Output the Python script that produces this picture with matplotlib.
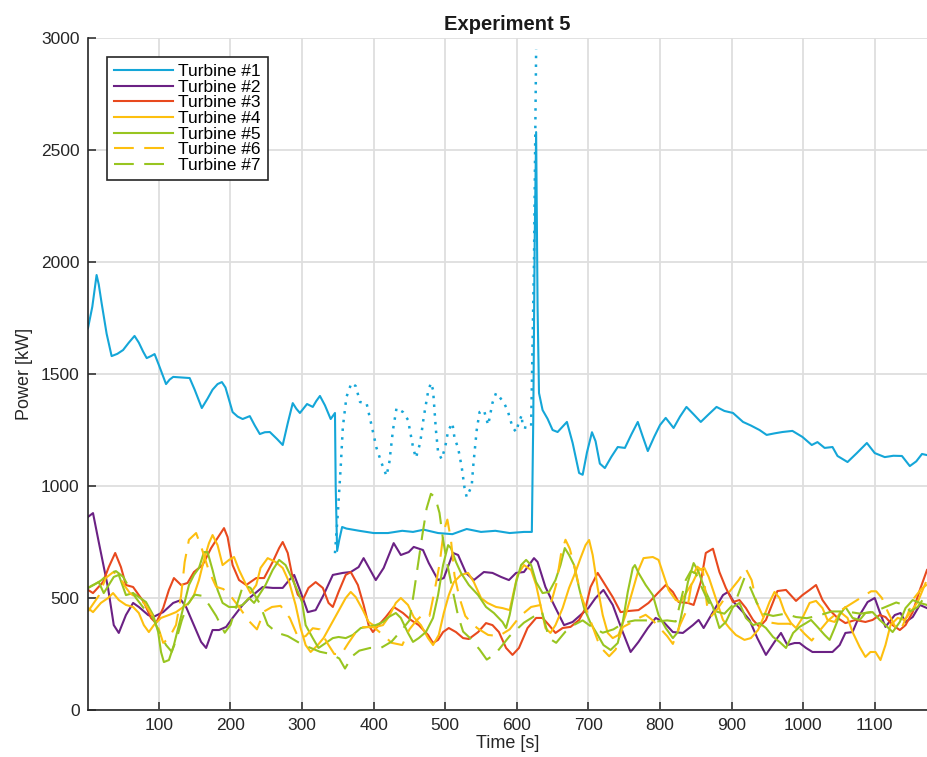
import matplotlib
matplotlib.use("Agg")
import matplotlib.pyplot as plt

# ---- data (time [s], power [kW]) ----
t1 = [1, 7, 13, 16, 20, 27, 34, 42, 50, 58, 66, 72, 78, 83, 89, 94, 100, 110, 115, 120,
      130, 143, 150, 160, 168, 175, 182, 188, 193, 203, 210, 217, 227, 234, 241, 248, 255,
      265, 273, 280, 287, 292, 297, 307, 315, 320, 325, 332, 340, 346, 347, 349, 352, 356,
      362, 380, 400, 420, 440, 455, 470, 490, 510, 530, 550, 570, 590, 610, 621, 623, 625,
      627, 629, 631, 636, 643, 650, 657, 664, 670, 678, 687, 692, 698, 705, 710, 716, 723,
      732, 741, 751, 760, 769, 776, 783, 792, 800, 808, 819, 828, 837, 847, 857, 868, 879,
      890, 902, 916, 927, 939, 949, 960, 971, 985, 999, 1012, 1020, 1030, 1041, 1048, 1062,
      1075, 1089, 1100, 1114, 1126, 1138, 1149, 1158, 1166, 1173]
p1 = [1705, 1800, 1942, 1900, 1817, 1680, 1580, 1590, 1607, 1640, 1670, 1640, 1600, 1571,
      1580, 1589, 1540, 1455, 1475, 1487, 1485, 1482, 1430, 1348, 1390, 1430, 1455, 1464,
      1440, 1330, 1310, 1299, 1312, 1270, 1232, 1240, 1241, 1210, 1183, 1280, 1370, 1345,
      1326, 1366, 1353, 1380, 1402, 1360, 1299, 1326, 1000, 710, 760, 817, 810, 800, 790,
      790, 800, 795, 805, 790, 785, 808, 795, 800, 790, 795, 795, 1300, 2100, 2580, 1800,
      1415, 1339, 1300, 1250, 1241, 1265, 1286, 1192, 1058, 1050, 1150, 1240, 1200, 1100,
      1080, 1130, 1174, 1170, 1230, 1286, 1220, 1156, 1220, 1272, 1304, 1259, 1310, 1353,
      1320, 1286, 1320, 1353, 1335, 1326, 1286, 1270, 1250, 1228, 1235, 1241, 1246, 1219,
      1183, 1196, 1170, 1174, 1134, 1107, 1147, 1192, 1147, 1129, 1135, 1134, 1089, 1110,
      1143, 1138]

# dotted blue trace during the curtailment window
t1_dot = [346, 350, 354, 357, 362, 369, 375, 381, 390, 397, 404, 411, 418, 422, 427, 432,
          441, 448, 455, 459, 465, 470, 476, 480, 483, 487, 490, 495, 500, 504, 510, 513,
          518, 523, 527, 530, 537, 539, 544, 548, 554, 560, 566, 571, 576, 582, 587, 594,
          599, 603, 607, 608, 615, 620, 624, 627]
p1_dot = [700, 879, 1085, 1263, 1397, 1460, 1446, 1375, 1371, 1272, 1170, 1103, 1045, 1107,
          1250, 1348, 1330, 1295, 1174, 1125, 1192, 1308, 1420, 1460, 1429, 1250, 1152, 1120,
          1174, 1246, 1281, 1214, 1170, 1085, 991, 951, 1000, 1085, 1250, 1330, 1339, 1272,
          1371, 1415, 1397, 1371, 1339, 1263, 1241, 1286, 1317, 1263, 1259, 1263, 2000, 2950]

t2 = [1, 8, 16, 29, 37, 44, 54, 64, 72, 85, 92, 106, 120, 131, 138, 147, 159, 166, 175,
      184, 194, 203, 217, 228, 245, 259, 273, 282, 289, 298, 308, 319, 330, 343, 357, 368,
      379, 386, 393, 403, 414, 428, 438, 449, 456, 469, 477, 490, 498, 511, 518, 529, 540,
      554, 566, 578, 589, 599, 610, 624, 629, 640, 652, 666, 678, 689, 700, 710, 721, 734,
      748, 759, 770, 783, 794, 805, 818, 832, 846, 854, 861, 874, 888, 895, 904, 916, 925,
      936, 948, 960, 969, 978, 988, 995, 1004, 1013, 1027, 1041, 1051, 1059, 1069, 1079,
      1090, 1100, 1107, 1115, 1128, 1136, 1143, 1153, 1163, 1173]
p2 = [862, 879, 750, 545, 379, 344, 424, 478, 460, 424, 415, 437, 478, 491, 460, 393, 304,
      277, 357, 357, 371, 411, 469, 504, 549, 545, 545, 580, 603, 527, 437, 446, 513, 603,
      612, 616, 638, 678, 638, 580, 634, 745, 692, 705, 728, 714, 656, 580, 589, 701, 692,
      612, 580, 616, 612, 594, 580, 612, 616, 678, 661, 549, 469, 379, 393, 424, 455, 500,
      536, 469, 348, 259, 304, 366, 411, 393, 348, 344, 379, 402, 366, 437, 513, 527, 478,
      437, 402, 321, 246, 304, 344, 290, 299, 299, 277, 259, 259, 259, 290, 344, 348, 424,
      482, 500, 437, 371, 424, 433, 393, 415, 469, 455]

t3 = [1, 8, 22, 30, 39, 47, 54, 64, 72, 79, 89, 96, 106, 114, 121, 131, 140, 149, 161, 173,
      182, 191, 196, 203, 212, 222, 236, 247, 259, 268, 273, 280, 287, 294, 301, 309, 319,
      329, 337, 343, 351, 361, 368, 378, 386, 393, 399, 407, 417, 428, 441, 452, 463, 476,
      483, 490, 497, 505, 515, 525, 533, 546, 557, 566, 575, 585, 594, 603, 615, 627, 636,
      645, 654, 664, 675, 687, 696, 703, 713, 721, 734, 745, 756, 770, 784, 797, 808, 818,
      826, 839, 847, 857, 864, 874, 883, 892, 902, 911, 920, 930, 939, 948, 958, 964, 976,
      990, 999, 1009, 1018, 1027, 1037, 1048, 1059, 1073, 1087, 1097, 1107, 1115, 1125,
      1135, 1143, 1153, 1163, 1173]
p3 = [536, 522, 571, 638, 701, 638, 558, 549, 513, 482, 411, 388, 455, 536, 589, 558, 567,
      616, 647, 723, 768, 812, 772, 647, 580, 558, 589, 589, 661, 723, 750, 701, 589, 515,
      491, 545, 571, 545, 478, 460, 527, 603, 616, 558, 469, 379, 348, 379, 415, 460, 433,
      402, 379, 335, 299, 313, 348, 366, 348, 321, 317, 348, 388, 379, 348, 277, 246, 277,
      366, 411, 411, 379, 344, 366, 371, 402, 455, 549, 612, 571, 504, 437, 442, 446, 478,
      522, 558, 527, 482, 478, 469, 571, 701, 720, 616, 545, 482, 491, 455, 402, 371, 402,
      482, 531, 536, 487, 513, 536, 558, 491, 446, 411, 388, 402, 393, 402, 424, 415, 379,
      357, 379, 437, 536, 625]

t4 = [1, 8, 19, 29, 36, 44, 54, 64, 72, 79, 86, 93, 103, 114, 124, 134, 142, 149, 156, 163,
      170, 175, 182, 189, 198, 205, 212, 222, 228, 236, 242, 252, 263, 273, 282, 291, 298,
      305, 312, 322, 330, 340, 350, 361, 368, 375, 385, 393, 403, 413, 421, 431, 438, 448,
      456, 466, 476, 483, 491, 498, 505, 512, 522, 532, 540, 550, 559, 571, 580, 590, 601,
      610, 620, 627, 634, 640, 647, 654, 664, 673, 682, 689, 696, 701, 706, 713, 720, 727,
      734, 742, 752, 762, 770, 777, 790, 798, 805, 812, 822, 829, 839, 846, 854, 862, 868,
      875, 881, 888, 897, 906, 918, 927, 937, 946, 953, 960, 967, 974, 983, 990, 999, 1009,
      1018, 1027, 1034, 1044, 1052, 1062, 1069, 1079, 1087, 1094, 1101, 1108, 1115, 1122,
      1132, 1142, 1150, 1160, 1171]
p4 = [455, 437, 478, 500, 522, 491, 469, 460, 433, 379, 348, 379, 411, 424, 437, 460, 478,
      513, 580, 670, 745, 781, 736, 647, 670, 683, 625, 558, 522, 558, 634, 678, 661, 634,
      571, 469, 366, 290, 259, 290, 321, 379, 437, 500, 527, 504, 446, 393, 371, 379, 415,
      478, 500, 469, 415, 379, 321, 290, 335, 433, 513, 571, 603, 612, 571, 500, 478, 460,
      455, 446, 603, 647, 625, 558, 455, 366, 344, 379, 455, 545, 616, 678, 736, 759, 692,
      545, 424, 344, 321, 335, 424, 536, 625, 678, 683, 670, 603, 536, 491, 482, 536, 571,
      625, 634, 594, 527, 469, 402, 366, 335, 313, 321, 357, 424, 482, 527, 500, 437, 388,
      366, 411, 478, 487, 455, 402, 393, 437, 411, 348, 281, 237, 259, 259, 223, 290, 379,
      411, 402, 437, 482, 567]

t5 = [1, 8, 16, 23, 30, 37, 44, 54, 64, 72, 82, 92, 99, 103, 107, 114, 121, 128, 135, 142,
      149, 156, 163, 168, 175, 182, 189, 198, 208, 217, 226, 233, 240, 249, 259, 268, 277,
      287, 294, 300, 305, 315, 323, 333, 343, 351, 361, 371, 382, 392, 403, 413, 421, 431,
      438, 448, 455, 463, 473, 483, 490, 497, 504, 508, 515, 522, 533, 546, 557, 568, 580,
      585, 590, 599, 606, 613, 620, 627, 636, 645, 654, 661, 667, 673, 680, 687, 694, 703,
      713, 721, 731, 741, 748, 755, 762, 765, 770, 780, 790, 798, 808, 818, 825, 832, 839,
      847, 854, 864, 874, 883, 892, 902, 911, 920, 930, 939, 948, 958, 967, 976, 986, 995,
      1004, 1011, 1020, 1030, 1037, 1044, 1051, 1059, 1069, 1079, 1087, 1097, 1107, 1115,
      1125, 1135, 1143, 1153, 1163, 1173]
p5 = [545, 558, 571, 522, 558, 594, 603, 513, 522, 504, 482, 424, 348, 259, 214, 223, 290,
      379, 469, 558, 603, 634, 705, 705, 625, 536, 478, 460, 460, 469, 500, 478, 513, 558,
      625, 670, 647, 580, 530, 482, 379, 321, 277, 299, 321, 326, 321, 335, 366, 371, 379,
      393, 415, 433, 411, 344, 304, 321, 348, 411, 513, 647, 736, 723, 661, 612, 558, 513,
      460, 433, 393, 366, 424, 571, 647, 670, 647, 571, 522, 527, 580, 647, 723, 692, 647,
      545, 455, 388, 335, 290, 268, 299, 393, 527, 634, 647, 612, 558, 513, 424, 366, 321,
      348, 455, 571, 656, 616, 527, 460, 366, 393, 460, 478, 411, 379, 388, 366, 326, 304,
      277, 344, 371, 388, 402, 371, 335, 313, 366, 424, 460, 411, 402, 433, 437, 402, 379,
      348, 393, 455, 491, 478, 469]

t6 = [1, 16, 26, 36, 44, 52, 60, 70, 80, 90, 100, 106, 114, 124, 131, 136, 142, 152, 160,
      170, 180, 190, 200, 212, 225, 237, 247, 258, 270, 283, 295, 305, 315, 325, 335, 345,
      355, 365, 380, 400, 415, 425, 440, 450, 460, 470, 478, 485, 492, 498, 503, 508, 513,
      520, 528, 536, 545, 560, 575, 590, 605, 620, 635, 648, 655, 662, 668, 674, 682, 690,
      698, 705, 713, 720, 729, 738, 748, 760, 770, 780, 790, 800, 810, 818, 828, 838, 846,
      852, 860, 866, 872, 880, 895, 910, 920, 928, 935, 945, 955, 965, 980, 992, 1002, 1012,
      1022, 1035, 1050, 1065, 1080, 1095, 1102, 1110, 1118, 1128, 1136, 1145, 1155, 1165,
      1173]
p6 = [440, 510, 590, 615, 605, 555, 520, 500, 475, 425, 360, 300, 320, 380, 510, 660, 760,
      790, 720, 620, 550, 540, 510, 460, 400, 360, 440, 460, 465, 410, 320, 330, 365, 360,
      300, 250, 250, 300, 370, 370, 330, 300, 290, 360, 400, 430, 420, 530, 650, 800, 850,
      760, 600, 500, 420, 390, 365, 335, 330, 360, 420, 460, 470, 480, 560, 700, 760, 720,
      620, 510, 440, 380, 310, 270, 240, 270, 370, 390, 410, 425, 400, 365, 330, 295, 380,
      450, 600, 640, 620, 460, 420, 450, 520, 580, 630, 580, 480, 410, 390, 385, 385, 375,
      340, 310, 350, 400, 440, 470, 500, 530, 530, 500, 440, 375, 355, 420, 500, 540, 560]

t7 = [1, 10, 20, 30, 40, 50, 58, 68, 80, 92, 100, 110, 118, 125, 132, 140, 150, 160, 170,
      180, 192, 200, 210, 218, 228, 240, 252, 265, 280, 296, 310, 325, 340, 352, 360, 370,
      380, 395, 410, 425, 440, 450, 456, 462, 468, 474, 480, 486, 492, 497, 503, 510, 518,
      525, 535, 548, 558, 570, 590, 610, 625, 635, 645, 655, 668, 680, 692, 705, 720, 735,
      750, 765, 780, 795, 810, 822, 836, 843, 850, 858, 868, 878, 890, 905, 918, 925, 935,
      945, 958, 975, 990, 1005, 1020, 1040, 1060, 1080, 1100, 1115, 1130, 1140, 1150, 1160,
      1173]
p7 = [545, 560, 580, 610, 620, 595, 550, 500, 450, 410, 350, 290, 260, 320, 400, 470, 515,
      510, 470, 420, 345, 380, 480, 560, 545, 480, 380, 345, 330, 300, 280, 260, 250, 230,
      185, 240, 265, 277, 277, 305, 360, 400, 520, 650, 780, 900, 965, 950, 880, 760, 650,
      540, 420, 350, 320, 270, 225, 250, 330, 390, 420, 440, 320, 300, 350, 380, 400, 370,
      345, 360, 390, 400, 400, 395, 400, 395, 580, 620, 610, 550, 480, 440, 430, 480, 590,
      555, 480, 430, 420, 430, 415, 410, 420, 440, 440, 430, 440, 460, 480, 470, 440, 460,
      520]

labels = ["Turbine #1", "Turbine #2", "Turbine #3", "Turbine #4",
          "Turbine #5", "Turbine #6", "Turbine #7"]

c_blue = "#14a6d8"
c_purple = "#6b2184"
c_red = "#e8491e"
c_yellow = "#fdbf0f"
c_green = "#98c520"

plt.rcParams["font.family"] = ["Liberation Sans", "DejaVu Sans"]

fig = plt.figure(figsize=(9.27, 7.57), dpi=100)
ax = fig.add_axes([88 / 927, 47 / 757, 839 / 927, 672 / 757])

lw = 1.5
ax.plot(t1_dot, p1_dot, color=c_blue, lw=1.8, dashes=(1, 2.5))
ax.plot(t1, p1, color=c_blue, lw=lw, label=labels[0])
ax.plot(t2, p2, color=c_purple, lw=lw, label=labels[1])
ax.plot(t3, p3, color=c_red, lw=lw, label=labels[2])
ax.plot(t4, p4, color=c_yellow, lw=lw, label=labels[3])
ax.plot(t5, p5, color=c_green, lw=lw, label=labels[4])
ax.plot(t6, p6, color=c_yellow, lw=lw, dashes=(9.5, 5), label=labels[5])
ax.plot(t7, p7, color=c_green, lw=lw, dashes=(9.5, 5), label=labels[6])

ax.set_xlim(1, 1173)
ax.set_ylim(0, 3000)
ax.set_xticks(range(100, 1101, 100))
ax.set_yticks(range(0, 3001, 500))

ax.grid(True, color="#dedede", lw=1.3)
ax.set_axisbelow(True)
for side in ("top", "right"):
    ax.spines[side].set_visible(False)
for side in ("left", "bottom"):
    ax.spines[side].set_color("#262626")
    ax.spines[side].set_linewidth(1.2)
ax.tick_params(direction="in", length=6, width=1.1, color="#262626",
               labelsize=12.5, labelcolor="#262626", pad=6)

ax.set_title("Experiment 5", fontsize=14.5, fontweight="bold", color="#1a1a1a", pad=6)
ax.set_xlabel("Time [s]", fontsize=13, color="#262626", labelpad=1)
ax.set_ylabel("Power [kW]", fontsize=13, color="#262626", labelpad=6)

leg = ax.legend(loc="upper left", bbox_to_anchor=(19 / 839, 653 / 672), borderaxespad=0,
                fontsize=12.5, handlelength=3.4, handletextpad=0.3, labelspacing=0.03,
                borderpad=0.4, fancybox=False, framealpha=1, edgecolor="#262626")
leg.get_frame().set_linewidth(1.2)

fig.savefig("out.png", dpi=100)
